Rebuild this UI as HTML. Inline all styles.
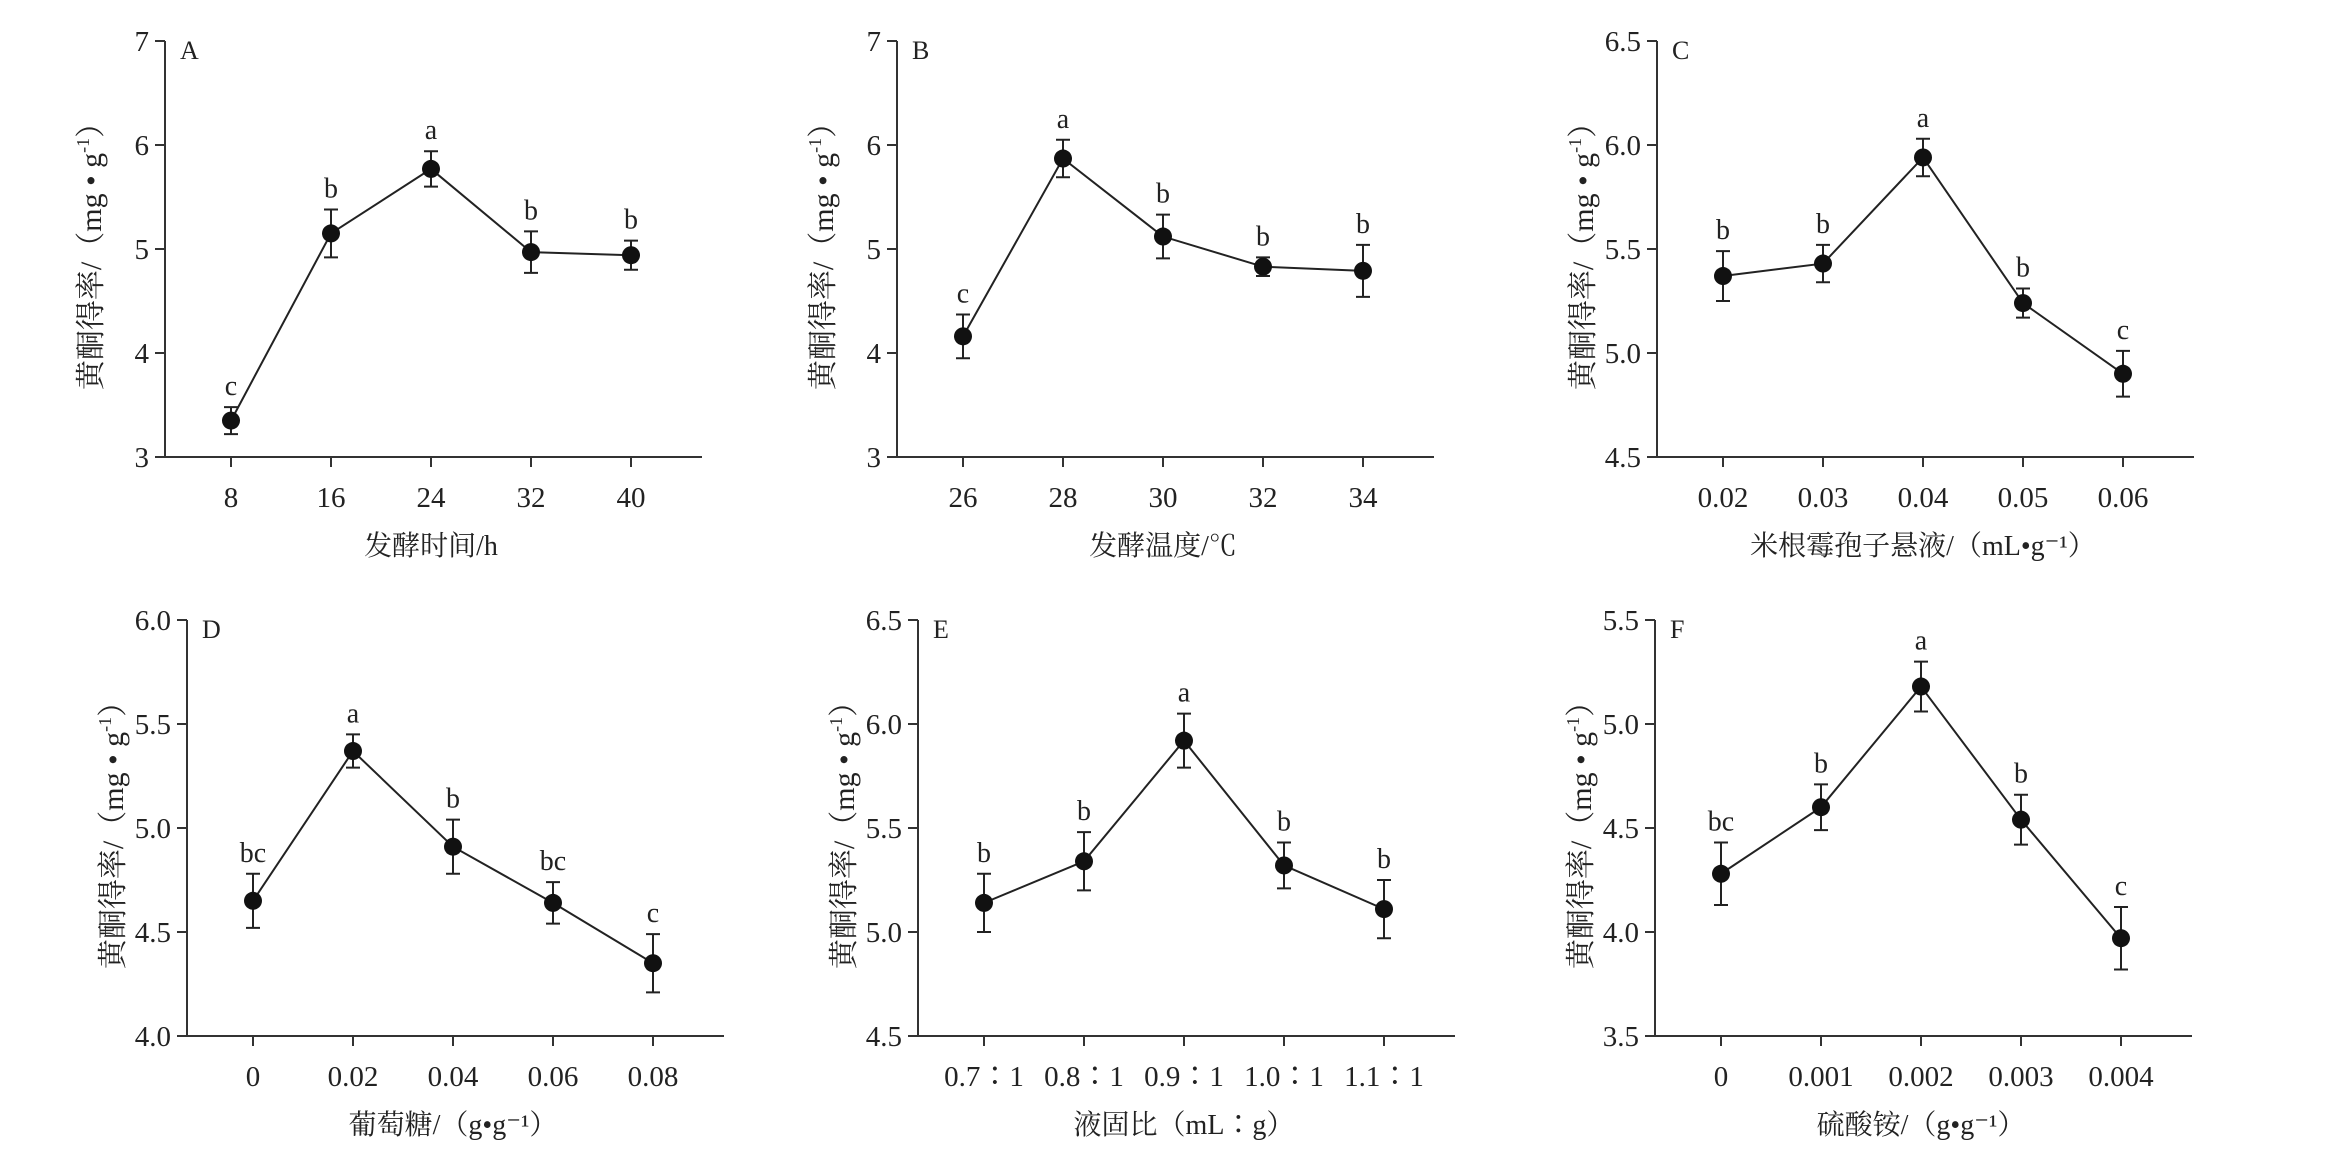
<!DOCTYPE html>
<html><head><meta charset="utf-8">
<style>
html,body{margin:0;padding:0;background:#fff;}
svg{display:block;}
text{font-family:"Liberation Serif","Noto Serif CJK SC","Noto Sans CJK SC",serif;fill:#222;}
</style></head>
<body>
<svg id="fig" width="2339" height="1151" viewBox="0 0 2339 1151" xmlns="http://www.w3.org/2000/svg"></svg>
<script>
// Panel data
const aCats = ["8","16","24","32","40"];
const aVals = [3.35,5.15,5.77,4.97,4.94];
const aErr = [0.13,0.23,0.17,0.20,0.14];
const aSig = ["c","b","a","b","b"];
const aTicks = ["3","4","5","6","7"];

const bCats = ["26","28","30","32","34"];
const bVals = [4.16,5.87,5.12,4.83,4.79];
const bErr = [0.21,0.18,0.21,0.09,0.25];
const bSig = ["c","a","b","b","b"];
const bTicks = ["3","4","5","6","7"];

const cCats = ["0.02","0.03","0.04","0.05","0.06"];
const cVals = [5.37,5.43,5.94,5.24,4.90];
const cErr = [0.12,0.09,0.09,0.07,0.11];
const cSig = ["b","b","a","b","c"];
const cTicks = ["4.5","5.0","5.5","6.0","6.5"];

const dCats = ["0","0.02","0.04","0.06","0.08"];
const dVals = [4.65,5.37,4.91,4.64,4.35];
const dErr = [0.13,0.08,0.13,0.10,0.14];
const dSig = ["bc","a","b","bc","c"];
const dTicks = ["4.0","4.5","5.0","5.5","6.0"];

const eCats = ["0.7∶1","0.8∶1","0.9∶1","1.0∶1","1.1∶1"];
const eVals = [5.14,5.34,5.92,5.32,5.11];
const eErr = [0.14,0.14,0.13,0.11,0.14];
const eSig = ["b","b","a","b","b"];
const eTicks = ["4.5","5.0","5.5","6.0","6.5"];

const fCats = ["0","0.001","0.002","0.003","0.004"];
const fVals = [4.28,4.60,5.18,4.54,3.97];
const fErr = [0.15,0.11,0.12,0.12,0.15];
const fSig = ["bc","b","a","b","c"];
const fTicks = ["3.5","4.0","4.5","5.0","5.5"];

const NS = "http://www.w3.org/2000/svg";
const svg = document.getElementById("fig");
function mk(tag, attrs, parent){
  const e = document.createElementNS(NS, tag);
  for (const k in attrs) e.setAttribute(k, attrs[k]);
  parent.appendChild(e);
  return e;
}
const AX = "#333";

function panel(id, letter, ox, top, bottom, cats, vals, errs, sig, ticks, xtitle){
  const g = mk("g", {}, svg);
  
  
  const tnum = ticks.map(Number);
  const ymin = tnum[0], ymax = tnum[tnum.length-1];
  const yS = v => bottom - (v - ymin) / (ymax - ymin) * (bottom - top);
  const xS = i => ox + 66 + i * 100;
  const right = ox + 537;
  const ya = mk("line", {x1:ox, y1:top, x2:ox, y2:bottom, stroke:AX, "stroke-width":2}, g);
  
  
  const xa = mk("line", {x1:ox-10, y1:bottom, x2:right, y2:bottom, stroke:AX, "stroke-width":2}, g);
  
  
  ticks.forEach((t, i) => {
    const y = yS(tnum[i]);
    mk("line", {x1:ox-10, y1:y, x2:ox, y2:y, stroke:AX, "stroke-width":2}, g);
    const tl = mk("text", {x:ox-16, y:y+10, "text-anchor":"end", "font-size":29}, g);
    tl.textContent = t;
    
    
  });
  cats.forEach((c, i) => {
    const x = xS(i);
    mk("line", {x1:x, y1:bottom, x2:x, y2:bottom+10, stroke:AX, "stroke-width":2}, g);
    const tl = mk("text", {x:x, y:bottom+50, "text-anchor":"middle", "font-size":29}, g);
    tl.textContent = c;
    
    
  });
  const pts = vals.map((v, i) => xS(i) + "," + yS(v)).join(" ");
  const pl = mk("polyline", {points:pts, fill:"none", stroke:"#222", "stroke-width":2}, g);
  
  
  vals.forEach((v, i) => {
    const x = xS(i), yt = yS(v + errs[i]), yb = yS(v - errs[i]);
    const eb = mk("path", {d:`M${x},${yt}V${yb}M${x-7},${yt}H${x+7}M${x-7},${yb}H${x+7}`, stroke:"#222", "stroke-width":2, fill:"none"}, g);
    
    
    const pt = mk("circle", {cx:x, cy:yS(v), r:9, fill:"#111"}, g);
    
    
    const sl = mk("text", {x:x, y:yt-12, "text-anchor":"middle", "font-size":28}, g);
    sl.textContent = sig[i];
    
    
  });
  const lt = mk("text", {x:ox+15, y:top+18, "font-size":26}, g);
  lt.textContent = letter;
  
  
  const xt = mk("text", {x:ox+266, y:bottom+98, "text-anchor":"middle", "font-size":28}, g);
  xt.textContent = xtitle;
  
  
  const cy = (top + bottom) / 2;
  const yt = mk("text", {x:ox-74, y:cy, "text-anchor":"middle", "font-size":30, transform:`rotate(-90 ${ox-74} ${cy}) translate(0 10)`}, g);
  yt.textContent = "黄酮得率/（mg • g";
  const sup = mk("tspan", {"font-size":18, dy:-12}, yt);
  sup.textContent = "-1";
  const cl = mk("tspan", {dy:12}, yt);
  cl.textContent = "）";
  
  
}

panel("a","A",165,41,457,aCats,aVals,aErr,aSig,aTicks,"发酵时间/h");
panel("b","B",897,41,457,bCats,bVals,bErr,bSig,bTicks,"发酵温度/℃");
panel("c","C",1657,41,457,cCats,cVals,cErr,cSig,cTicks,"米根霉孢子悬液/（mL•g⁻¹）");
panel("d","D",187,620,1036,dCats,dVals,dErr,dSig,dTicks,"葡萄糖/（g•g⁻¹）");
panel("e","E",918,620,1036,eCats,eVals,eErr,eSig,eTicks,"液固比（mL∶g）");
panel("f","F",1655,620,1036,fCats,fVals,fErr,fSig,fTicks,"硫酸铵/（g•g⁻¹）");
</script>
</body></html>
